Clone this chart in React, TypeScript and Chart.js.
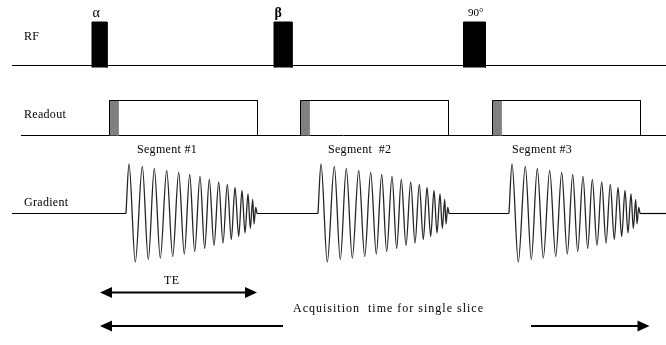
import React, { useEffect, useRef } from 'react';
import { Chart, registerables } from 'chart.js';

Chart.register(...registerables);

// ---- extents: arbitrary time units (x) and vertical levels (y, top = 0) ----
const TIME_MAX = 666;
const LEVEL_MAX = 345;

// channels
const channelNames = ['RF', 'Readout', 'Gradient'];
const channelLevels = [65.5, 135.5, 213.5];
const channelStarts = [12, 21, 12];
const channelLabelX = [24, 24, 24];
const channelLabelLevels = [39.5, 118, 205.5];

// RF pulses
const rfPulseLabels = ['α', 'β', '90°'];
const rfPulseStarts = [92, 274, 463.5];
const rfPulseEnds = [107, 292, 485.5];
const rfPulseTop = 22;
const rfPulseBottom = 67.5;
const rfLabelX = [92.5, 274.5, 468];
const rfLabelLevels = [16.5, 17, 15.5];

// readout windows
const segmentLabels = ['Segment #1', 'Segment  #2', 'Segment #3'];
const readoutStarts = [109.5, 300.5, 492.5];
const readoutPrepEnds = [118, 309, 501];
const readoutEnds = [257.5, 448.5, 640.5];
const readoutTop = 100.5;
const segmentLabelX = [137, 328, 512];
const segmentLabelLevel = 152.5;

// spiral gradient lobes: time from lobe start, amplitude above baseline
const gradientStarts = [126, 318, 509];
const spiralTime = [0, 3, 9.3, 16.3, 22.3, 28.3, 34.3, 40.7, 46.7, 52.7, 58.3, 63.7, 68.7, 74, 78.7, 83.3, 88, 92.7, 97, 101.3, 105.3, 109, 112.7, 116, 119, 122, 124.3, 126.7, 128, 129.7, 131];
const spiralAmp = [0, 49.5, -48.5, 47, -46, 45, -44.5, 43, -43, 41, -40.5, 39, -38, 37, -35, 34, -32, 31.5, -29.5, 29, -26, 26, -23, 23, -19.5, 19.5, -15, 14, -10.5, 6, 0];

// timing arrows
const arrowStarts = [100, 100, 531];
const arrowEnds = [257, 283, 649.5];
const arrowLevels = [292.5, 326, 326];
const arrowHeadAtStart = [true, true, false];
const arrowHeadAtEnd = [true, false, true];

// annotation texts
const noteTexts = ['TE', 'Acquisition  time for single slice'];
const noteX = [164, 293];
const noteLevels = [284, 311.5];

const FONT = "'Liberation Serif', 'Times New Roman', serif";

function seg(points: { x: number; y: number }[], extra: any = {}) {
  return {
    data: points,
    showLine: true,
    pointRadius: 0,
    borderColor: '#000',
    borderWidth: 1,
    tension: 0,
    fill: false,
    ...extra,
  };
}

export default function App() {
  const ref = useRef<HTMLCanvasElement>(null);

  useEffect(() => {
    const canvas = ref.current!;
    const datasets: any[] = [];

    // RF and Readout baselines
    [0, 1].forEach((c) => {
      datasets.push(seg([{ x: channelStarts[c], y: channelLevels[c] }, { x: TIME_MAX, y: channelLevels[c] }], { order: 5 }));
    });

    // Gradient baseline pieces between lobes
    const gLevel = channelLevels[2];
    const lobeLen = spiralTime[spiralTime.length - 1];
    const gapStarts = [channelStarts[2], ...gradientStarts.map((s) => s + lobeLen)];
    const gapEnds = [...gradientStarts, TIME_MAX];
    gapStarts.forEach((s, i) => {
      datasets.push(seg([{ x: s, y: gLevel }, { x: gapEnds[i], y: gLevel }], { borderWidth: 1.2, order: 5 }));
    });

    // spiral lobes
    gradientStarts.forEach((s) => {
      datasets.push(
        seg(
          spiralTime.map((t, i) => ({ x: s + t, y: gLevel - spiralAmp[i] })),
          { cubicInterpolationMode: 'monotone', borderColor: '#262626', borderWidth: 1.3, order: 4 }
        )
      );
    });

    // RF pulses (filled blocks)
    rfPulseStarts.forEach((s, i) => {
      const e = rfPulseEnds[i];
      datasets.push(
        seg(
          [
            { x: s, y: rfPulseBottom },
            { x: s, y: rfPulseTop },
            { x: e, y: rfPulseTop },
            { x: e, y: rfPulseBottom },
          ],
          { fill: { value: rfPulseBottom }, backgroundColor: '#000', order: 3 }
        )
      );
    });

    // Readout windows: gray prep block + outlined box
    readoutStarts.forEach((s, i) => {
      const base = channelLevels[1];
      datasets.push(
        seg(
          [
            { x: s, y: base },
            { x: s, y: readoutTop },
            { x: readoutPrepEnds[i], y: readoutTop },
            { x: readoutPrepEnds[i], y: base },
          ],
          { fill: { value: base }, backgroundColor: '#808080', borderColor: '#808080', order: 3 }
        )
      );
      datasets.push(
        seg(
          [
            { x: s, y: base },
            { x: s, y: readoutTop },
            { x: readoutEnds[i], y: readoutTop },
            { x: readoutEnds[i], y: base },
          ],
          { order: 1 }
        )
      );
    });

    // arrow shafts
    arrowStarts.forEach((s, i) => {
      datasets.push(seg([{ x: s + (arrowHeadAtStart[i] ? 6 : 0), y: arrowLevels[i] }, { x: arrowEnds[i] - (arrowHeadAtEnd[i] ? 6 : 0), y: arrowLevels[i] }], { borderWidth: 2, order: 1 }));
    });

    const annotate = {
      id: 'annotate',
      afterDatasetsDraw(chart: any) {
        const { ctx } = chart;
        const xs = chart.scales.x;
        const ys = chart.scales.y;
        const px = (v: number) => xs.getPixelForValue(v);
        const py = (v: number) => ys.getPixelForValue(v);
        ctx.save();
        ctx.fillStyle = '#000';
        ctx.textBaseline = 'alphabetic';
        ctx.textAlign = 'left';

        // arrowheads
        const head = (tipX: number, y: number, dir: number) => {
          const L = 12, H = 5.5;
          ctx.beginPath();
          ctx.moveTo(px(tipX), py(y));
          ctx.lineTo(px(tipX) - dir * L, py(y) - H);
          ctx.lineTo(px(tipX) - dir * L, py(y) + H);
          ctx.closePath();
          ctx.fill();
        };
        arrowStarts.forEach((s, i) => {
          if (arrowHeadAtStart[i]) head(s, arrowLevels[i], -1);
          if (arrowHeadAtEnd[i]) head(arrowEnds[i], arrowLevels[i], 1);
        });

        // channel names
        ctx.font = `12px ${FONT}`;
        (ctx as any).letterSpacing = '0.3px';
        channelNames.forEach((n, i) => {
          ctx.fillText(n, px(channelLabelX[i]), py(channelLabelLevels[i]));
        });

        // pulse labels
        (ctx as any).letterSpacing = '0px';
        rfPulseLabels.forEach((n, i) => {
          ctx.font = i === 1 ? `bold 14px ${FONT}` : i === 0 ? `14px ${FONT}` : `11px ${FONT}`;
          ctx.fillText(n, px(rfLabelX[i]), py(rfLabelLevels[i]));
        });

        // segment labels
        ctx.font = `12px ${FONT}`;
        (ctx as any).letterSpacing = '0.3px';
        segmentLabels.forEach((n, i) => {
          ctx.fillText(n, px(segmentLabelX[i]), py(segmentLabelLevel));
        });

        // notes
        (ctx as any).letterSpacing = '0.5px';
        ctx.font = `12px ${FONT}`;
        ctx.fillText(noteTexts[0], px(noteX[0]), py(noteLevels[0]));
        (ctx as any).letterSpacing = '1px';
        ctx.fillText(noteTexts[1], px(noteX[1]), py(noteLevels[1]));
        ctx.restore();
      },
    };

    const chart = new Chart(canvas, {
      type: 'scatter',
      data: { datasets },
      options: {
        animation: false,
        responsive: false,
        devicePixelRatio: 1,
        layout: { padding: 0 },
        plugins: { legend: { display: false }, tooltip: { enabled: false } },
        events: [],
        scales: {
          x: { type: 'linear', min: 0, max: TIME_MAX, display: false },
          y: { type: 'linear', min: 0, max: LEVEL_MAX, reverse: true, display: false },
        },
      },
      plugins: [annotate],
    });
    return () => chart.destroy();
  }, []);

  return (
    <div style={{ position: 'absolute', left: 0, top: 0, width: 666, height: 345, background: '#fff' }}>
      <canvas ref={ref} width={666} height={345} />
    </div>
  );
}
